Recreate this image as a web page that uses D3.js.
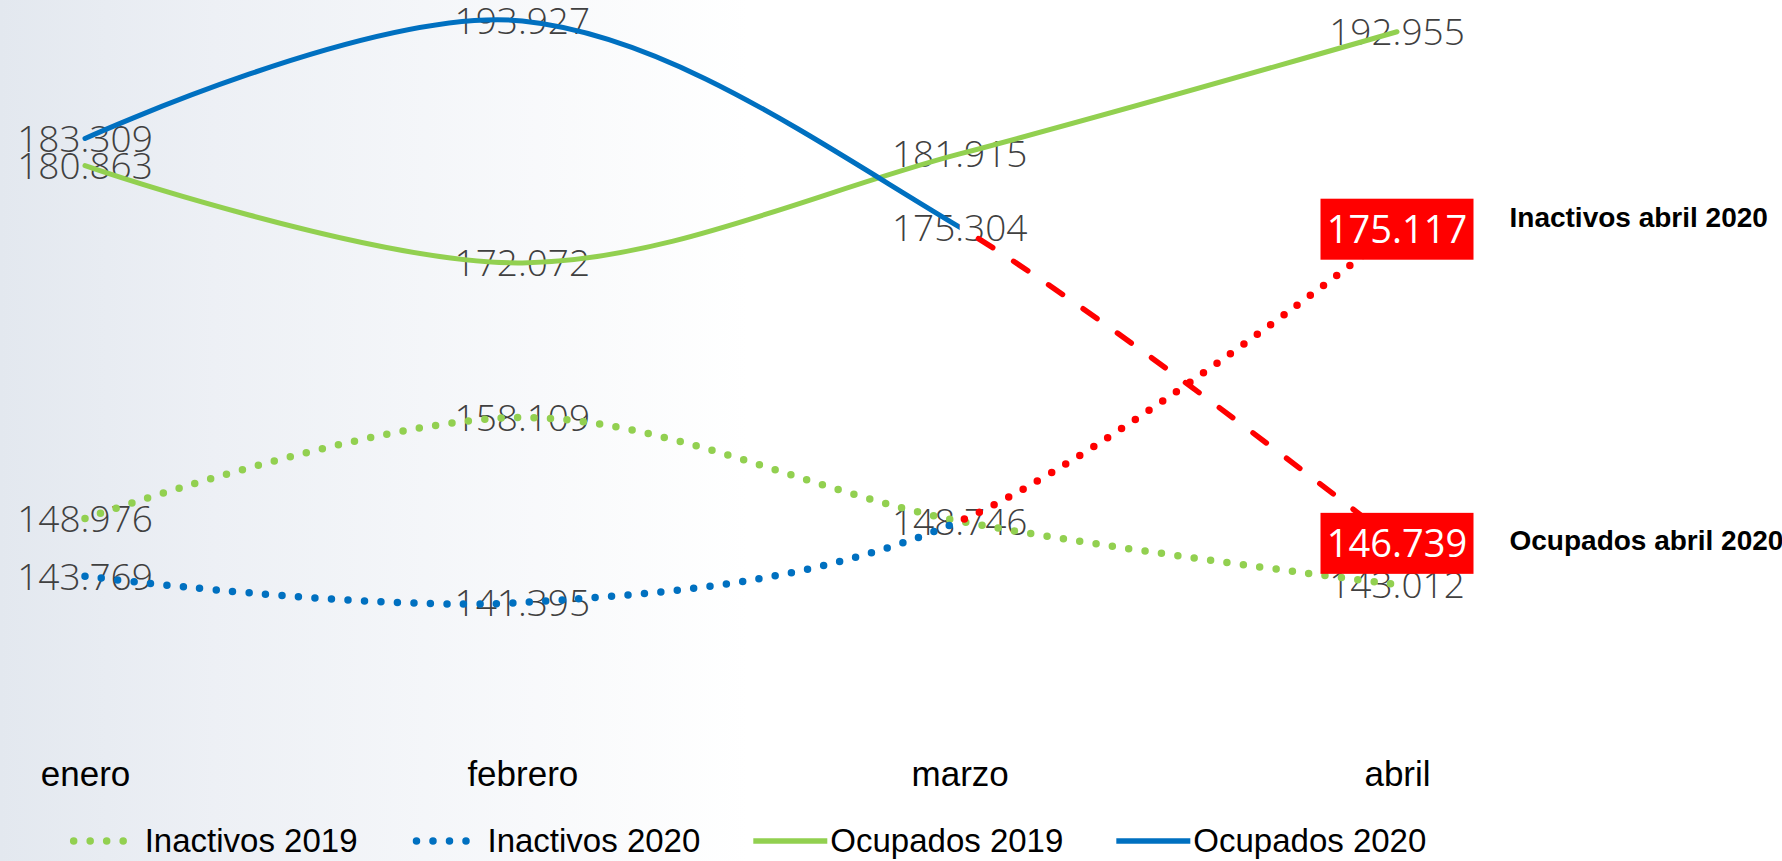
<!DOCTYPE html>
<html>
<head>
<meta charset="utf-8">
<script src="https://cdn.jsdelivr.net/npm/d3@7"></script>
<style>
  html, body { margin: 0; padding: 0; background: #ffffff; }
  svg { display: block; }
</style>
</head>
<body>
<div id="chart"></div>
<script>
// ---------------- data ----------------
const months = ["enero", "febrero", "marzo", "abril"];
const inactivos2019 = [148976, 158109, 148746, 143012];
const inactivos2020 = [143769, 141395, 148746, 175117];
const ocupados2019 = [180863, 172072, 181915, 192955];
const ocupados2020 = [183309, 193927, 175304, 146739];
const seriesNames = ["Inactivos 2019", "Inactivos 2020", "Ocupados 2019", "Ocupados 2020"];
const annotationLabels = ["Inactivos abril 2020", "Ocupados abril 2020"];

// ---------------- setup ----------------
const W = 1782, H = 861;
const GREEN = "#92d050", BLUE = "#0070c0", RED = "#ff0000", LABEL = "#404040";
const labelFont = "'Open Sans', 'Liberation Sans', Arial, sans-serif";
const textFont = "'Liberation Sans', Arial, sans-serif";

const locale = d3.formatLocale({ decimal: ",", thousands: ".", grouping: [3], currency: ["", "€"] });
const fmt = locale.format(",d");

const svg = d3.select("#chart").append("svg").attr("width", W).attr("height", H);
const defs = svg.append("defs");

const grad = defs.append("linearGradient").attr("id", "bg").attr("x1", "0").attr("x2", "1").attr("y1", "0").attr("y2", "0");
grad.append("stop").attr("offset", "0").attr("stop-color", "#e3e8ef");
grad.append("stop").attr("offset", "0.12").attr("stop-color", "#edf0f5");
grad.append("stop").attr("offset", "0.42").attr("stop-color", "#ffffff");
grad.append("stop").attr("offset", "1").attr("stop-color", "#ffffff");
svg.append("rect").attr("width", W).attr("height", H).attr("fill", "url(#bg)");

const x = d3.scalePoint().domain(months).range([85, 1397]);
const y = d3.scaleLinear().domain([135000, 195000]).range([673.3, 9.1]);

const splitX = x("marzo");
defs.append("clipPath").attr("id", "clipL").append("rect").attr("x", -100).attr("y", -100).attr("width", splitX + 100).attr("height", H + 200);
defs.append("clipPath").attr("id", "clipR").append("rect").attr("x", splitX).attr("y", -100).attr("width", W).attr("height", H + 200);

const line = d3.line().x((d, i) => x(months[i])).y(d => y(d)).curve(d3.curveCatmullRom.alpha(0));

const series = [
  { name: seriesNames[0], values: inactivos2019, color: GREEN, dotted: true, red: false },
  { name: seriesNames[1], values: inactivos2020, color: BLUE, dotted: true, red: true },
  { name: seriesNames[2], values: ocupados2019, color: GREEN, dotted: false, red: false },
  { name: seriesNames[3], values: ocupados2020, color: BLUE, dotted: false, red: true }
];

function styleLine(sel, s, color) {
  sel.attr("fill", "none").attr("stroke", color).attr("stroke-linecap", "round").attr("stroke-linejoin", "round");
  if (s.dotted) sel.attr("stroke-width", 7.5).attr("stroke-dasharray", "0 16.5");
  else sel.attr("stroke-width", 5);
  return sel;
}

// ---------------- data labels (under lines, as in the reference) ----------------
const labelG = svg.append("g");
const seen = new Set();
series.forEach(s => {
  s.values.forEach((v, i) => {
    if (s.red && i === 3) return;
    const key = months[i] + "|" + v;
    if (seen.has(key)) return;
    seen.add(key);
    labelG.append("text")
      .attr("x", x(months[i]))
      .attr("y", y(v) + 13.5)
      .attr("text-anchor", "middle")
      .attr("font-family", labelFont)
      .attr("font-weight", 300)
      .attr("font-size", 37)
      .attr("fill", LABEL)
      .text(fmt(v));
  });
});

// ---------------- lines ----------------
const linesG = svg.append("g");
series.forEach(s => {
  if (!s.red) {
    styleLine(linesG.append("path").attr("d", line(s.values)), s, s.color);
  } else {
    styleLine(linesG.append("path").attr("d", line(s.values)).attr("clip-path", "url(#clipL)"), s, s.color);
    const r = linesG.append("path").attr("d", line(s.values)).attr("clip-path", "url(#clipR)");
    styleLine(r, s, RED);
    if (!s.dotted) r.attr("stroke-width", 5.5).attr("stroke-linecap", "round").attr("stroke-dasharray", "17 25");
  }
});

// ---------------- red highlighted April 2020 values ----------------
const redSeries = [series[1], series[3]];
const boxW = 153, boxH = 61;
redSeries.forEach((s, k) => {
  const v = s.values[3];
  const cx = x("abril"), cy = y(v);
  svg.append("rect").attr("x", cx - boxW / 2).attr("y", cy - boxH / 2).attr("width", boxW).attr("height", boxH).attr("fill", RED);
  svg.append("text")
    .attr("x", cx).attr("y", cy + 14)
    .attr("text-anchor", "middle")
    .attr("font-family", labelFont)
    .attr("font-size", 38)
    .attr("fill", "#ffffff")
    .text(fmt(v));
  svg.append("text")
    .attr("x", cx + boxW / 2 + 36)
    .attr("y", cy + (k === 0 ? -2 : 7))
    .attr("font-family", textFont)
    .attr("font-weight", "bold")
    .attr("font-size", 28)
    .attr("fill", "#000000")
    .text(annotationLabels[k]);
});

// ---------------- category axis labels ----------------
const xAxis = d3.axisBottom(x).tickSize(0).tickPadding(0);
const axisG = svg.append("g").attr("transform", "translate(0,760)").call(xAxis);
axisG.select(".domain").remove();
axisG.selectAll("text")
  .attr("font-family", textFont)
  .attr("font-size", 35)
  .attr("fill", "#000000")
  .attr("dy", 0)
  .attr("y", 26);

// ---------------- legend ----------------
const legendG = svg.append("g");
const sampleW = 74, sampleGap = 3, itemGap = 53;
let cursor = 0;
const items = [];
series.forEach(s => {
  const g = legendG.append("g");
  const ln = g.append("line").attr("y1", 0).attr("y2", 0).attr("stroke", s.color);
  if (s.dotted) ln.attr("x1", 6).attr("x2", 6 + 4 * 16.5).attr("stroke-width", 7.5).attr("stroke-linecap", "round").attr("stroke-dasharray", "0 16.5");
  else ln.attr("x1", 0).attr("x2", sampleW).attr("stroke-width", 5.5);
  const t = g.append("text").attr("x", sampleW + sampleGap).attr("y", 11)
    .attr("font-family", textFont).attr("font-size", 33).attr("fill", "#000000").text(s.name);
  const w = sampleW + sampleGap + t.node().getComputedTextLength();
  items.push({ g, w });
});
const total = d3.sum(items, d => d.w) + itemGap * (items.length - 1);
cursor = 747 - total / 2;
items.forEach(it => {
  it.g.attr("transform", `translate(${cursor},841)`);
  cursor += it.w + itemGap;
});
</script>
</body>
</html>
